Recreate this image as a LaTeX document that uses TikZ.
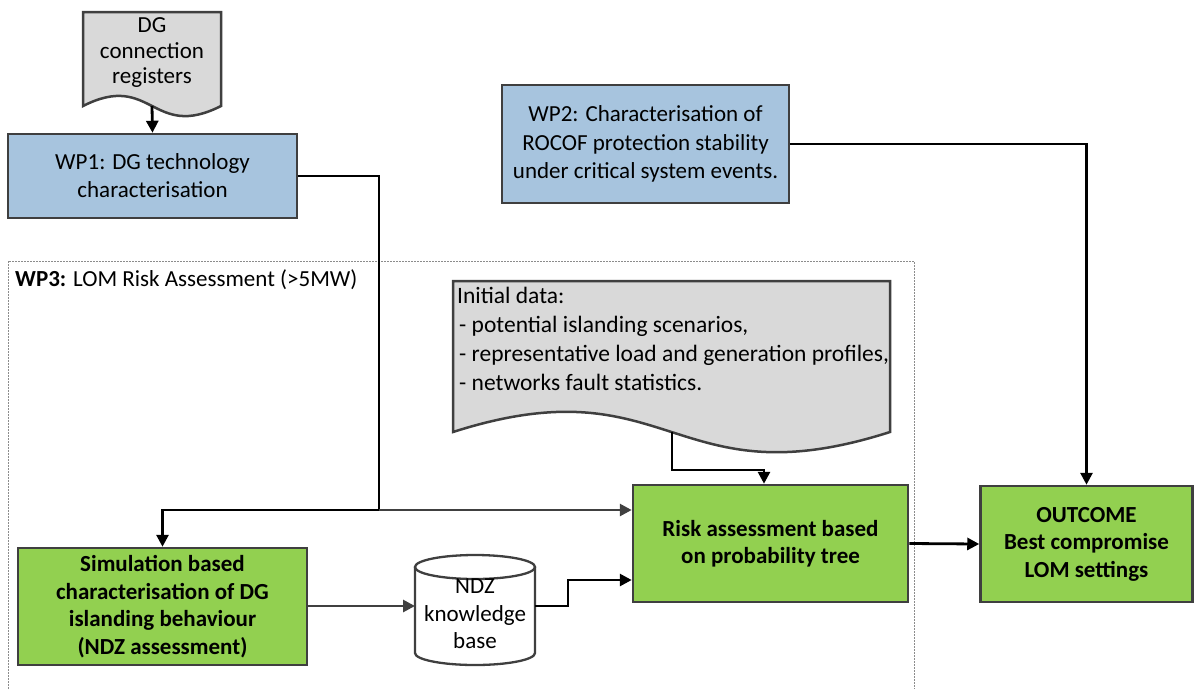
\documentclass[tikz,border=0pt]{standalone}
\usepackage{fontspec}
\setmainfont{Carlito}
\usetikzlibrary{arrows.meta,calc}
\definecolor{bluefill}{HTML}{A7C4DE}
\definecolor{greenfill}{HTML}{92D050}
\definecolor{docfill}{HTML}{D9D9D9}
\definecolor{bordercol}{HTML}{3F3F3F}
\definecolor{greyline}{HTML}{404040}
\definecolor{dashcol}{HTML}{8C8C8C}
\tikzset{
  box/.style={draw=bordercol, line width=2.5pt, minimum width=#1, inner sep=0pt, align=center,
    font=\fontsize{23}{28}\selectfont},
  bluebox/.style={box=#1, fill=bluefill},
  greenbox/.style={box=#1, fill=greenfill, font=\fontsize{23}{27.5}\selectfont\bfseries},
  docshape/.style={draw=bordercol, line width=2.5pt, fill=docfill},
  conn/.style={line width=2.8pt, black, -{Triangle[length=12pt,width=12pt]}},
  gconn/.style={line width=2.8pt, greyline, -{Triangle[length=12pt,width=12pt]}},
  plain/.style={line width=2.8pt, black},
}
\begin{document}
\begin{tikzpicture}[x=1pt,y=-1pt]
\useasboundingbox (0,0) rectangle (1194,689);
% WP3 dashed frame
\draw[dashcol, line width=1pt, dash pattern=on 2pt off 1pt] (8,689) -- (8,261) -- (914,261) -- (914,689);
\node[anchor=west, inner sep=0pt, font=\fontsize{23}{27}\selectfont] (wp3) at (15,280) {\textbf{WP3:} LOM Risk Assessment (>5MW)};

% DG connection registers document
\draw[docshape] (83,106) -- (83,12) -- (221,12) -- (221,106)
  .. controls (152,106+35) and (152,106-35) .. (83,106) -- cycle;
\node[align=center, inner sep=0pt, font=\fontsize{23}{25.5}\selectfont] (dg) at (152,53) {DG\\connection\\registers};
\coordinate (dgbot) at (152,106);

% Initial data document
\draw[docshape] (453,432) -- (453,281) -- (890,281) -- (890,432)
  .. controls (671.5,432+70) and (671.5,432-70) .. (453,432) -- cycle;
\node[anchor=north west, align=left, inner sep=0pt, font=\fontsize{23.5}{29}\selectfont] (init) at (457,287)
  {Initial data:\\\hspace{2pt}- potential islanding scenarios,\\\hspace{2pt}- representative load and generation profiles,\\\hspace{2pt}- networks fault statistics.};
\coordinate (initbot) at (672,432);

% boxes
\node[bluebox=289pt, minimum height=84pt] (wp1) at (152.5,176) {WP1: DG technology\\characterisation};
\node[bluebox=287pt, minimum height=118pt, font=\fontsize{23}{28.5}\selectfont] (wp2) at (645.5,144) {WP2: Characterisation of\\ROCOF protection stability\\under critical system events.};
\node[greenbox=289pt, minimum height=117pt] (sim) at (162.5,606.5) {Simulation based\\characterisation of DG\\islanding behaviour\\(NDZ assessment)};
\node[greenbox=275pt, minimum height=117pt] (risk) at (770.5,543.5) {Risk assessment based\\on probability tree};
\node[greenbox=212pt, minimum height=116pt] (out) at (1086.5,544) {OUTCOME\\Best compromise\\LOM settings};

% cylinder
\draw[bordercol, line width=2.3pt, fill=white] (415,567) -- (415,653)
  arc[start angle=180, end angle=0, x radius=60, y radius=12] -- (535,567);
\draw[bordercol, line width=2.3pt, fill=white] (475,567) ellipse [x radius=60, y radius=12];
\node[minimum width=120pt, minimum height=110pt, inner sep=0pt, align=center,
  font=\fontsize{23}{27.5}\selectfont] (ndz) at (475,614) {NDZ\\knowledge\\base};

% connectors
\draw[conn] (dgbot) -- (wp1.north);
\coordinate (j) at (379,510);
\draw[plain] (wp1.east) -- (wp1.east -| j) -- (j);
\draw[conn] (j) -- (j -| sim.north) -- (sim.north);
\draw[gconn] (j) -- (j -| risk.west);
\draw[conn] (initbot) -- (672,470) -- (764,470) -- (764,0 |- risk.north);
\draw[conn] (wp2.east) -- (wp2.east -| out.north) -- (out.north);
\draw[gconn] (sim.east |- 0,606) -- (415,606);
\draw[conn] (535,606) -- (568,606) -- (568,580) -- (risk.west |- 0,580);
\draw[conn] (risk.east) -- (out.west);
\end{tikzpicture}
\end{document}
